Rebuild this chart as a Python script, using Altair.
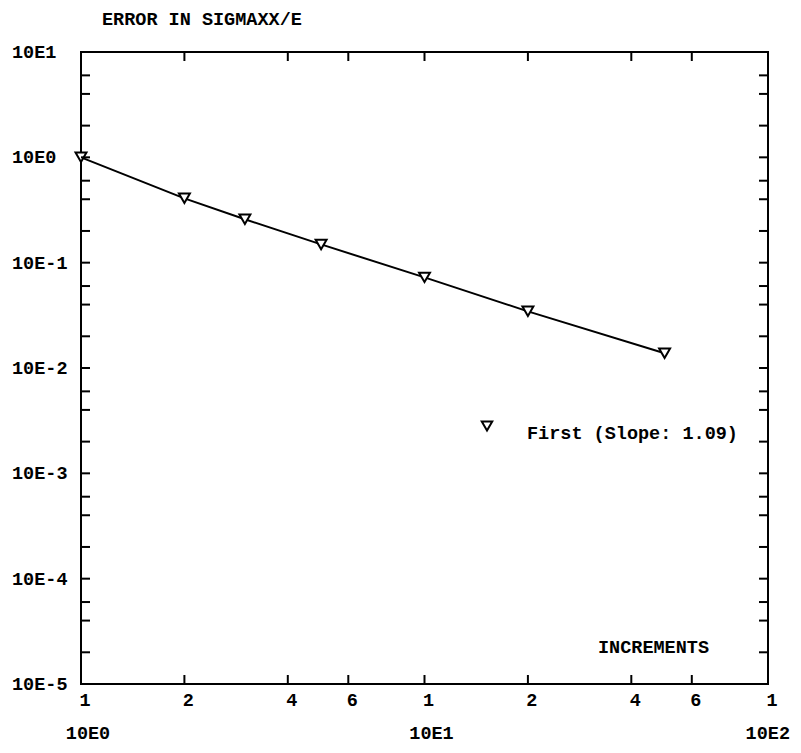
import altair as alt
import pandas as pd

# Data
increments = [1, 2, 3, 5, 10, 20, 50]
error_sigmaxx = [1.0, 0.408, 0.258, 0.149, 0.0725, 0.0345, 0.0138]

x_tick_values = [1, 2, 4, 6, 10, 20, 40, 60, 100]
x_tick_labels = ["1", "2", "4", "6", "1", "2", "4", "6", "1"]
x_decade_values = [1, 10, 100]
x_decade_labels = ["10E0", "10E1", "10E2"]

y_major_values = [10, 1, 0.1, 0.01, 0.001, 0.0001, 0.00001]
y_major_labels = ["10E1", "10E0", "10E-1", "10E-2", "10E-3", "10E-4", "10E-5"]
y_minor_values = [m * 10.0 ** k for k in range(-5, 1) for m in (2, 4, 6)]

W, H = 687, 632
TICK = 9
FONT = "Liberation Mono"
FS = 18.5

xs = alt.Scale(type="log", domain=[1, 100], nice=False)
ys = alt.Scale(type="log", domain=[0.00001, 10], nice=False)

df = pd.DataFrame({"x": increments, "y": error_sigmaxx})
xt = pd.DataFrame({"v": x_tick_values, "lab": x_tick_labels})
xd = pd.DataFrame({"v": x_decade_values, "lab": x_decade_labels})
yt = pd.DataFrame({"v": y_major_values + y_minor_values})
yl = pd.DataFrame({"v": y_major_values, "lab": y_major_labels})

X = lambda f="v": alt.X(f"{f}:Q", scale=xs, axis=None)
Y = lambda f="v": alt.Y(f"{f}:Q", scale=ys, axis=None)

line = alt.Chart(df).mark_line(color="black", strokeWidth=2).encode(x=X("x"), y=Y("y"))
pts = alt.Chart(df).mark_point(shape="triangle-down", size=120, filled=True,
                               fill="white", stroke="black", strokeWidth=2, opacity=1).encode(
    x=X("x"), y=Y("y"))

xt_top = alt.Chart(xt).mark_rule(color="black", strokeWidth=2).encode(
    x=X(), y=alt.value(0), y2=alt.value(TICK))
xt_bot = alt.Chart(xt).mark_rule(color="black", strokeWidth=2).encode(
    x=X(), y=alt.value(H - TICK), y2=alt.value(H))
yt_left = alt.Chart(yt).mark_rule(color="black", strokeWidth=2).encode(
    y=Y(), x=alt.value(0), x2=alt.value(TICK))
yt_right = alt.Chart(yt).mark_rule(color="black", strokeWidth=2).encode(
    y=Y(), x=alt.value(W - TICK), x2=alt.value(W))

x_labels = alt.Chart(xt).mark_text(font=FONT, fontSize=FS, fontWeight="bold", dx=4,
                                   baseline="middle", align="center").encode(
    x=X(), y=alt.value(H + 16), text="lab:N")
x_dec_a = alt.Chart(xd).transform_filter("datum.v < 50").mark_text(
    font=FONT, fontSize=FS, fontWeight="bold", dx=7,
    baseline="middle", align="center").encode(
    x=X(), y=alt.value(H + 49), text="lab:N")
x_dec_b = alt.Chart(xd).transform_filter("datum.v >= 50").mark_text(
    font=FONT, fontSize=FS, fontWeight="bold", dx=22,
    baseline="middle", align="right").encode(
    x=X(), y=alt.value(H + 49), text="lab:N")
y_labels = alt.Chart(yl).mark_text(font=FONT, fontSize=FS, fontWeight="bold",
                                   baseline="middle", align="left").encode(
    y=Y(), x=alt.value(-69), text="lab:N")

title = alt.Chart(pd.DataFrame({"t": ["ERROR IN SIGMAXX/E"]})).mark_text(
    font=FONT, fontSize=FS, fontWeight="bold", align="left", baseline="middle").encode(
    x=alt.value(21), y=alt.value(-33), text="t:N")
xtitle = alt.Chart(pd.DataFrame({"t": ["INCREMENTS"]})).mark_text(
    font=FONT, fontSize=FS, fontWeight="bold", align="left", baseline="middle").encode(
    x=alt.value(517), y=alt.value(595), text="t:N")

leg_pt = alt.Chart(pd.DataFrame({"t": ["First"]})).mark_point(
    shape="triangle-down", size=110, filled=False, stroke="black", strokeWidth=2,
    opacity=1).encode(x=alt.value(406), y=alt.value(374))
leg_txt = alt.Chart(pd.DataFrame({"t": ["First (Slope: 1.09)"]})).mark_text(
    font=FONT, fontSize=FS, fontWeight="bold", align="left", baseline="middle").encode(
    x=alt.value(446), y=alt.value(381), text="t:N")

chart = alt.layer(
    line, pts, xt_top, xt_bot, yt_left, yt_right,
    x_labels, x_dec_a, x_dec_b, y_labels, title, xtitle, leg_pt, leg_txt
).properties(
    width=W, height=H,
    autosize=alt.AutoSizeParams(type="none"),
    padding={"left": 73, "top": 44, "right": 25, "bottom": 61},
    background="white",
).configure_view(stroke="black", strokeWidth=2)

chart.save("out.html", embed_options={"renderer": "svg", "actions": False})
